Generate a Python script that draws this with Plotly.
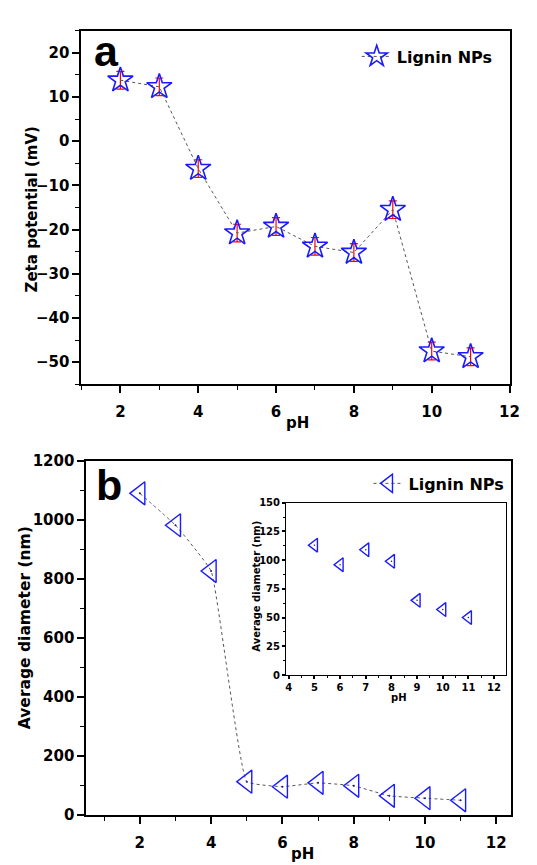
import plotly.graph_objects as go

# ---- data ----
ph_zeta = [2, 3, 4, 5, 6, 7, 8, 9, 10, 11]
zeta_mv = [13.8, 12.3, -6.2, -20.8, -19.3, -23.8, -25.2, -15.5, -47.5, -48.8]
zeta_err = [2.0, 2.0, 2.0, 2.0, 2.0, 2.0, 2.0, 2.0, 2.0, 2.0]

ph_size = [2, 3, 4, 5, 6, 7, 8, 9, 10, 11]
diameter_nm = [1089, 981, 826, 113, 96, 109, 99, 65, 57, 50]

ph_inset = [5, 6, 7, 8, 9, 10, 11]
diameter_inset = [113, 96, 109, 99, 65, 57, 50]

series_name = "Lignin NPs"

W, H = 537, 865
FONT = "DejaVu Sans, sans-serif"
LFONT = "Liberation Sans, Arial, sans-serif"
BLUE = "#1a1aff"

fig = go.Figure()

fig.add_trace(go.Scatter(
    x=ph_zeta, y=zeta_mv, mode="lines+markers", name=series_name,
    xaxis="x", yaxis="y", legend="legend",
    line=dict(color="#555555", width=1, dash="dot"),
    marker=dict(symbol="star-open", size=19, color=BLUE, line=dict(width=1.6, color=BLUE)),
    error_y=dict(type="data", array=zeta_err, color="red", thickness=1.2, width=4),
))

fig.add_trace(go.Scatter(
    x=ph_size, y=diameter_nm, mode="lines+markers", name=series_name,
    xaxis="x2", yaxis="y2", legend="legend2",
    line=dict(color="#555555", width=1, dash="dot", shape="spline", smoothing=0.3),
    marker=dict(symbol="triangle-left-open", size=20, color=BLUE, line=dict(width=1.4, color=BLUE)),
))
# tiny centre dots of the Origin-style triangles
fig.add_trace(go.Scatter(
    x=ph_size, y=diameter_nm, mode="markers", showlegend=False, hoverinfo="skip",
    xaxis="x2", yaxis="y2",
    marker=dict(symbol="circle", size=2, color="#1a1a80"),
))

fig.add_trace(go.Scatter(
    x=ph_inset, y=diameter_inset, mode="markers", showlegend=False,
    xaxis="x3", yaxis="y3",
    marker=dict(symbol="triangle-left-open", size=12, color=BLUE, line=dict(width=1.4, color=BLUE)),
))
fig.add_trace(go.Scatter(
    x=ph_inset, y=diameter_inset, mode="markers", showlegend=False, hoverinfo="skip",
    xaxis="x3", yaxis="y3",
    marker=dict(symbol="circle", size=1.5, color="#1a1a80"),
))

def px_x(v):
    return v / W

def px_y(v):
    return 1 - v / H

tickfont = dict(family=FONT, size=15, color="black", weight="bold")
small_tick = dict(family=FONT, size=10, color="black", weight="bold")

def axis(domain, rng, dtick, minor_dtick, anchor, tf, lw=2, ticklen=7, standoff=0):
    return dict(
        domain=domain, range=rng, anchor=anchor, dtick=dtick, tick0=0,
        showgrid=False, zeroline=False, showline=True, linecolor="black", linewidth=lw,
        mirror=True, ticks="outside", ticklen=ticklen, tickwidth=1.5, tickcolor="black",
        tickfont=tf, ticklabelstandoff=standoff,
        minor=dict(dtick=minor_dtick, tick0=0, ticks="outside", ticklen=max(2, ticklen // 2 + 1),
                   tickwidth=1.2, tickcolor="black", showgrid=False),
    )

legfont = dict(family=FONT, size=16, color="black", weight="bold")

layout = dict(
    width=W, height=H, margin=dict(l=0, r=0, t=0, b=0),
    paper_bgcolor="white", plot_bgcolor="white",
    showlegend=True,
    xaxis=axis([px_x(74), px_x(511)], [1, 12], 2, 1, "y", tickfont, standoff=6),
    yaxis=axis([px_y(375), px_y(14)], [-55, 25], 10, 5, "x", tickfont),
    xaxis2=axis([px_x(79), px_x(512)], [0.5, 12.4], 2, 1, "y2", tickfont, standoff=6),
    yaxis2=axis([px_y(815), px_y(453)], [0, 1200], 200, 100, "x2", tickfont),
    xaxis3=axis([px_x(283), px_x(507)], [3.9, 12.45], 1, 0.5, "y3", small_tick, lw=1.4, ticklen=3),
    yaxis3=axis([px_y(672), px_y(496)], [0, 150], 25, 12.5, "x3", small_tick, lw=1.4, ticklen=3),
    legend=dict(x=px_x(355), y=px_y(23), xanchor="left", yanchor="top",
                bgcolor="rgba(0,0,0,0)", font=legfont, itemwidth=30),
    legend2=dict(x=px_x(367), y=px_y(459), xanchor="left", yanchor="top",
                 bgcolor="rgba(0,0,0,0)", font=legfont, itemwidth=30),
)
fig.update_layout(**layout)

def ann(text, x, y, size, angle=0, family=FONT):
    fig.add_annotation(text=text, x=px_x(x), y=px_y(y), xref="paper", yref="paper",
                       showarrow=False, textangle=angle, xanchor="center", yanchor="middle",
                       font=dict(family=family, size=size, color="black", weight="bold"))

ann("a", 100, 35, 43, family=LFONT)
ann("b", 102.5, 478, 43, family=LFONT)
ann("Zeta potential (mV)", 23, 197, 15, -90)
ann("pH", 295, 415, 15)
ann("Average diameter (nm)", 16.5, 624, 15.5, -90)
ann("pH", 300, 855, 15)
ann("Average diameter (nm)", 253, 581, 10, -90)
ann("pH", 398, 694.5, 10)

fig.write_html("out.html")
